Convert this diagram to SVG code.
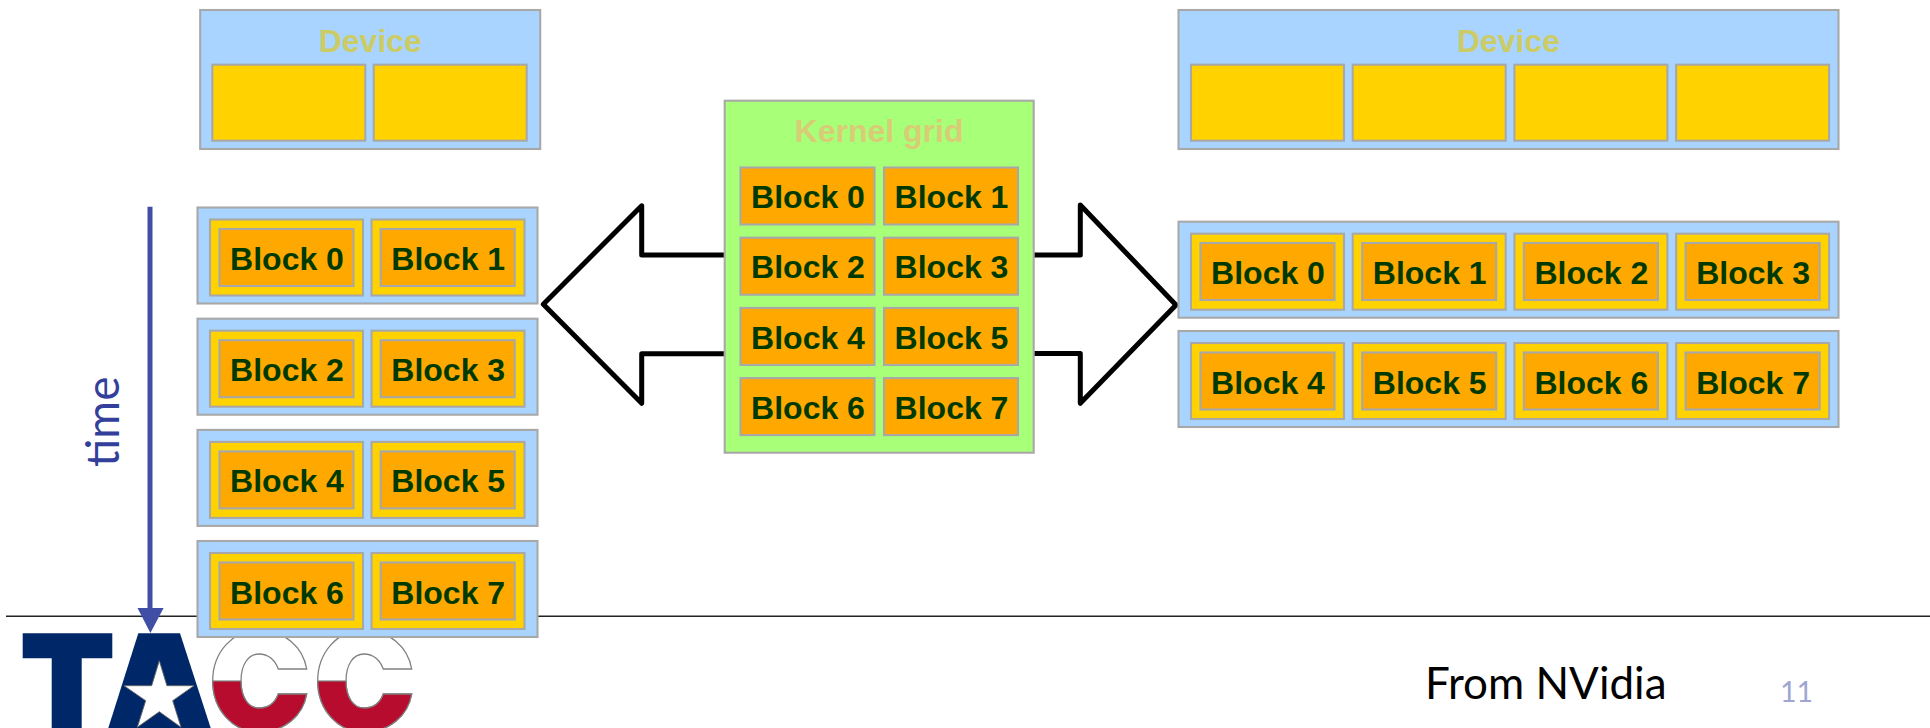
<svg xmlns="http://www.w3.org/2000/svg" xmlns:xlink="http://www.w3.org/1999/xlink" width="1930" height="728" viewBox="0 0 1930 728">
<style>
rect{stroke:#a8a8a8;stroke-width:2.1}
.d{fill:#a8d4ff}.y{fill:#ffd200}.o{fill:#ffa800}.g{fill:#a8ff78}
text{font-family:"Liberation Sans",Arial,sans-serif;font-weight:700;font-size:32px;text-anchor:middle}
.b{fill:#003a00}.t1{fill:#cccc66}.t2{fill:#d9cc77}
.l{font-family:Lato,"Open Sans",sans-serif;font-weight:400;text-anchor:start}
.arrow{fill:#fff;stroke:#000;stroke-width:5;stroke-linejoin:round}
</style>
<defs>
<path id="cshape" d="M306.7,669 C303,647 284,630 259,630 C233,630 212.7,652 212.7,681 C212.7,710 233,732 259,732 C284,732 303,716 306.7,694 H278.3 C275,703 268,708 259,708 C248,708 241,697 241,681 C241,665 248,654 259,654 C268,654 275,660 278.3,669 Z"/>
<clipPath id="lower"><rect x="200" y="681" width="230" height="60" style="stroke:none"/></clipPath>
</defs>
<rect width="1930" height="728" style="fill:#fff;stroke:none"/>
<g id="logo">
<path fill="#002868" d="M22.7,633.3 H112.3 V658.3 H81.7 V728 H51.7 V658.3 H22.7 Z"/>
<path fill="#002868" d="M138.3,633.3 H180 L210.7,728 H108.3 Z"/>
<path fill="#fff" stroke="#666" stroke-width="0.9" d="M159.3,660.7 L166.9,685.7 H194 L172.7,700.7 L181,727.3 L159.3,711.7 L137.3,727.3 L145.7,700.7 L124,685.7 H151.7 Z"/>
<use xlink:href="#cshape" href="#cshape" fill="#fff" stroke="#808080" stroke-width="1.3"/>
<use xlink:href="#cshape" href="#cshape" fill="#b80c2e" stroke="#808080" stroke-width="1.3" clip-path="url(#lower)"/>
<line x1="213" y1="681" x2="241" y2="681" stroke="#808080" stroke-width="1.2"/>
<g transform="translate(105 0)">
<use xlink:href="#cshape" href="#cshape" fill="#fff" stroke="#808080" stroke-width="1.3"/>
<use xlink:href="#cshape" href="#cshape" fill="#b80c2e" stroke="#808080" stroke-width="1.3" clip-path="url(#lower)"/>
<line x1="213" y1="681" x2="241" y2="681" stroke="#808080" stroke-width="1.2"/>
</g>
</g>
<g id="connectors">
<line x1="6" y1="616.2" x2="1930" y2="616.2" stroke="#222" stroke-width="1.6"/>
<path class="arrow" d="M724,255 H641.7 V205.7 L543.3,304.3 L641.7,403.3 V353.7 H724"/>
<path class="arrow" d="M1034,255 H1080.3 V205 L1176,305 L1080.3,403.3 V353.5 H1034"/>
</g>
<g id="device-left">
<rect class="d" x="200.2" y="10" width="340" height="139"/>
<rect class="y" x="212.3" y="64.7" width="153" height="76"/>
<rect class="y" x="373.7" y="64.7" width="153" height="76"/>
<text class="t1" x="370.3" y="51.5">Device</text>
</g>
<g id="device-right">
<rect class="d" x="1178.5" y="10" width="660" height="139"/>
<rect class="y" x="1191" y="64.7" width="153" height="76"/>
<rect class="y" x="1352.7" y="64.7" width="153" height="76"/>
<rect class="y" x="1514.4" y="64.7" width="153" height="76"/>
<rect class="y" x="1676.1" y="64.7" width="153" height="76"/>
<text class="t1" x="1508.5" y="51.5">Device</text>
</g>
<g id="kernel-grid">
<rect class="g" x="724.7" y="100.7" width="309" height="352"/>
<text class="t2" x="879" y="142">Kernel grid</text>
<rect class="o" x="740.5" y="167.5" width="134" height="57"/><text class="b" x="808" y="208">Block 0</text>
<rect class="o" x="884" y="167.5" width="134" height="57"/><text class="b" x="951.5" y="208">Block 1</text>
<rect class="o" x="740.5" y="237.7" width="134" height="57"/><text class="b" x="808" y="278">Block 2</text>
<rect class="o" x="884" y="237.7" width="134" height="57"/><text class="b" x="951.5" y="278">Block 3</text>
<rect class="o" x="740.5" y="307.9" width="134" height="57"/><text class="b" x="808" y="348.5">Block 4</text>
<rect class="o" x="884" y="307.9" width="134" height="57"/><text class="b" x="951.5" y="348.5">Block 5</text>
<rect class="o" x="740.5" y="378.1" width="134" height="57"/><text class="b" x="808" y="418.8">Block 6</text>
<rect class="o" x="884" y="378.1" width="134" height="57"/><text class="b" x="951.5" y="418.8">Block 7</text>
</g>
<g id="left-row-1">
<rect class="d" x="197.5" y="207.5" width="340" height="96"/>
<rect class="y" x="210" y="219.5" width="153" height="76"/><rect class="y" x="371.5" y="219.5" width="153" height="76"/>
<rect class="o" x="219.5" y="229" width="134" height="57"/><rect class="o" x="380.7" y="229" width="134" height="57"/>
<text class="b" x="287" y="270">Block 0</text><text class="b" x="448.2" y="270">Block 1</text>
</g>
<g id="left-row-2">
<rect class="d" x="197.5" y="318.7" width="340" height="96"/>
<rect class="y" x="210" y="330.7" width="153" height="76"/><rect class="y" x="371.5" y="330.7" width="153" height="76"/>
<rect class="o" x="219.5" y="340.2" width="134" height="57"/><rect class="o" x="380.7" y="340.2" width="134" height="57"/>
<text class="b" x="287" y="381">Block 2</text><text class="b" x="448.2" y="381">Block 3</text>
</g>
<g id="left-row-3">
<rect class="d" x="197.5" y="429.9" width="340" height="96"/>
<rect class="y" x="210" y="441.9" width="153" height="76"/><rect class="y" x="371.5" y="441.9" width="153" height="76"/>
<rect class="o" x="219.5" y="451.4" width="134" height="57"/><rect class="o" x="380.7" y="451.4" width="134" height="57"/>
<text class="b" x="287" y="492">Block 4</text><text class="b" x="448.2" y="492">Block 5</text>
</g>
<g id="left-row-4">
<rect class="d" x="197.5" y="541" width="340" height="96"/>
<rect class="y" x="210" y="553" width="153" height="76"/><rect class="y" x="371.5" y="553" width="153" height="76"/>
<rect class="o" x="219.5" y="562.5" width="134" height="57"/><rect class="o" x="380.7" y="562.5" width="134" height="57"/>
<text class="b" x="287" y="603.8">Block 6</text><text class="b" x="448.2" y="603.8">Block 7</text>
</g>
<g id="right-row-1">
<rect class="d" x="1178.5" y="221.7" width="660" height="96"/>
<rect class="y" x="1191" y="233.7" width="153" height="76"/><rect class="y" x="1352.7" y="233.7" width="153" height="76"/><rect class="y" x="1514.4" y="233.7" width="153" height="76"/><rect class="y" x="1676.1" y="233.7" width="153" height="76"/>
<rect class="o" x="1200.5" y="243" width="134" height="57"/><rect class="o" x="1362.2" y="243" width="134" height="57"/><rect class="o" x="1523.9" y="243" width="134" height="57"/><rect class="o" x="1685.6" y="243" width="134" height="57"/>
<text class="b" x="1268" y="284">Block 0</text><text class="b" x="1429.7" y="284">Block 1</text><text class="b" x="1591.4" y="284">Block 2</text><text class="b" x="1753.1" y="284">Block 3</text>
</g>
<g id="right-row-2">
<rect class="d" x="1178.5" y="331" width="660" height="96"/>
<rect class="y" x="1191" y="343" width="153" height="76"/><rect class="y" x="1352.7" y="343" width="153" height="76"/><rect class="y" x="1514.4" y="343" width="153" height="76"/><rect class="y" x="1676.1" y="343" width="153" height="76"/>
<rect class="o" x="1200.5" y="352.5" width="134" height="57"/><rect class="o" x="1362.2" y="352.5" width="134" height="57"/><rect class="o" x="1523.9" y="352.5" width="134" height="57"/><rect class="o" x="1685.6" y="352.5" width="134" height="57"/>
<text class="b" x="1268" y="394">Block 4</text><text class="b" x="1429.7" y="394">Block 5</text><text class="b" x="1591.4" y="394">Block 6</text><text class="b" x="1753.1" y="394">Block 7</text>
</g>
<g id="time-axis">
<line x1="150" y1="206.7" x2="150" y2="612" stroke="#404ea6" stroke-width="5"/>
<polygon points="137.5,608 163.6,608 150.4,633" fill="#404ea6"/>
<text class="l" transform="translate(119 467) rotate(-90)" fill="#333f9a" style="font-size:46px">time</text>
</g>
<text id="credit" class="l" x="1425" y="699.3" fill="#000" style="font-size:44px">From NVidia</text>
<text id="page" class="l" x="1780" y="701.7" fill="#a0a5d2" style="font-size:28.5px">11</text>
</svg>
